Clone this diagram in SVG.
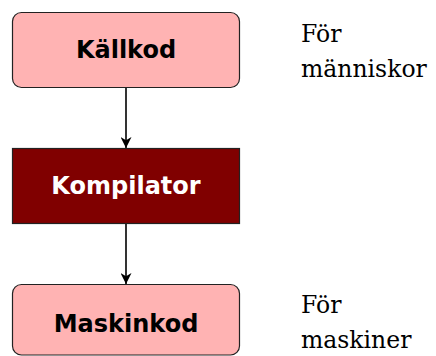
<svg xmlns="http://www.w3.org/2000/svg" width="436" height="356" viewBox="0 0 436 356">
<style>
.box{fill:#ffb3b3;stroke:#222;stroke-width:1.2}
.dark{fill:#800000;stroke:#222;stroke-width:1.2}
.lbl{font-family:"DejaVu Sans",sans-serif;font-weight:bold;font-size:24px;text-anchor:middle}
.note{font-family:"DejaVu Serif",serif;font-size:23.5px;fill:#000}
.conn{stroke:#000;stroke-width:1.6;fill:none}
</style>
<defs>
<marker id="ah" viewBox="0 0 10 10" refX="10" refY="5" markerWidth="11" markerHeight="11" markerUnits="userSpaceOnUse" orient="auto">
<path d="M0,0 L10,5 L0,10 L3,5 Z" fill="#000"/>
</marker>
</defs>
<g id="connectors">
<line class="conn" x1="126" y1="88" x2="126" y2="148" marker-end="url(#ah)"/>
<line class="conn" x1="126" y1="224" x2="126" y2="284" marker-end="url(#ah)"/>
</g>
<g id="kallkod">
<rect class="box" x="12.5" y="12.5" width="227" height="75" rx="9"/>
<text class="lbl" x="126" y="58">Källkod</text>
</g>
<g id="kompilator">
<rect class="dark" x="12.5" y="148.5" width="227" height="75"/>
<text class="lbl" x="126" y="193.5" fill="#fff">Kompilator</text>
</g>
<g id="maskinkod">
<rect class="box" x="12.5" y="284.5" width="227" height="70.5" rx="9"/>
<text class="lbl" x="126" y="331.5">Maskinkod</text>
</g>
<g id="note-top">
<text class="note" x="301" y="42">För</text>
<text class="note" x="301" y="77">människor</text>
</g>
<g id="note-bottom">
<text class="note" x="301" y="313">För</text>
<text class="note" x="301" y="348">maskiner</text>
</g>
</svg>
